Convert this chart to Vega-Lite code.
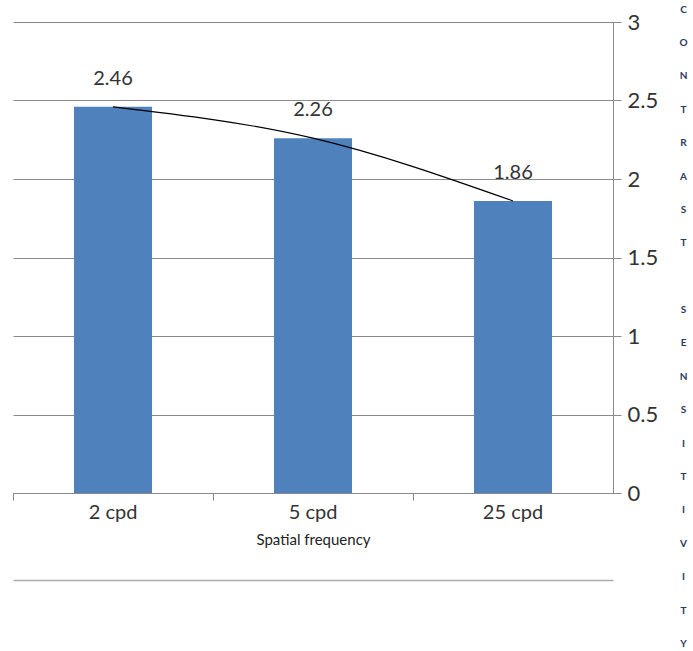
{
  "$schema": "https://vega.github.io/schema/vega-lite/v6.json",
  "autosize": "none",
  "width": 600,
  "height": 471,
  "padding": {"left": 13, "top": 22, "right": 80, "bottom": 158},
  "background": "white",
  "config": {
    "view": {"stroke": null},
    "font": "Lato",
    "axis": {"labelFont": "Lato", "titleFont": "Lato"}
  },
  "data": {
    "values": [
      {"freq": "2 cpd", "cs": 2.46},
      {"freq": "5 cpd", "cs": 2.26},
      {"freq": "25 cpd", "cs": 1.86}
    ]
  },
  "layer": [
    {
      "mark": {"type": "bar", "color": "#4F81BD"},
      "encoding": {
        "x": {
          "field": "freq",
          "type": "nominal",
          "sort": null,
          "scale": {"paddingInner": 0.61, "paddingOuter": 0.305},
          "axis": {
            "title": "Spatial frequency",
            "titleFontSize": 15,
            "titleFontWeight": "normal",
            "titleColor": "#222",
            "titlePadding": 10,
            "labelAngle": 0,
            "labelFontSize": 20,
            "labelColor": "#333",
            "labelPadding": 2,
            "bandPosition": -0.782,
            "tickSize": 7,
            "tickColor": "#888",
            "domainColor": "#888",
            "grid": false
          }
        },
        "y": {
          "field": "cs",
          "type": "quantitative",
          "scale": {"domain": [0, 3], "nice": false, "zero": true},
          "axis": {
            "orient": "right",
            "values": [0, 0.5, 1, 1.5, 2, 2.5, 3],
            "format": "~g",
            "grid": true,
            "gridColor": "#8a8a8a",
            "domainColor": "#8a8a8a",
            "tickColor": "#8a8a8a",
            "tickSize": 8,
            "labelFontSize": 22,
            "labelColor": "#333",
            "labelPadding": 6,
            "title": ["C","O","N","T","R","A","S","T","\u2800","S","E","N","S","I","T","I","V","I","T","Y"],
            "titleAngle": 0,
            "titleAlign": "center",
            "titleBaseline": "top",
            "titleX": 70,
            "titleY": -18,
            "titleFontSize": 10,
            "titleFontWeight": "bold",
            "titleColor": "#2b3a5c",
            "titleLineHeight": 33.4
          }
        }
      }
    },
    {
      "mark": {"type": "line", "color": "#000", "strokeWidth": 1.2, "interpolate": "monotone"},
      "encoding": {
        "x": {"field": "freq", "type": "nominal", "sort": null,
          "axis": {"orient": "bottom", "offset": 87, "labels": false, "ticks": false, "title": null, "grid": false, "domainColor": "#aaa", "domainWidth": 1.5}},
        "y": {"field": "cs", "type": "quantitative"}
      }
    },
    {
      "mark": {"type": "text", "fontSize": 20, "color": "#333", "baseline": "middle", "dy": -28},
      "encoding": {
        "x": {"field": "freq", "type": "nominal", "sort": null, "axis": null},
        "y": {"field": "cs", "type": "quantitative"},
        "text": {"field": "cs", "type": "quantitative", "format": ".2f"}
      }
    }
  ],
  "resolve": {"axis": {"x": "independent"}}
}
